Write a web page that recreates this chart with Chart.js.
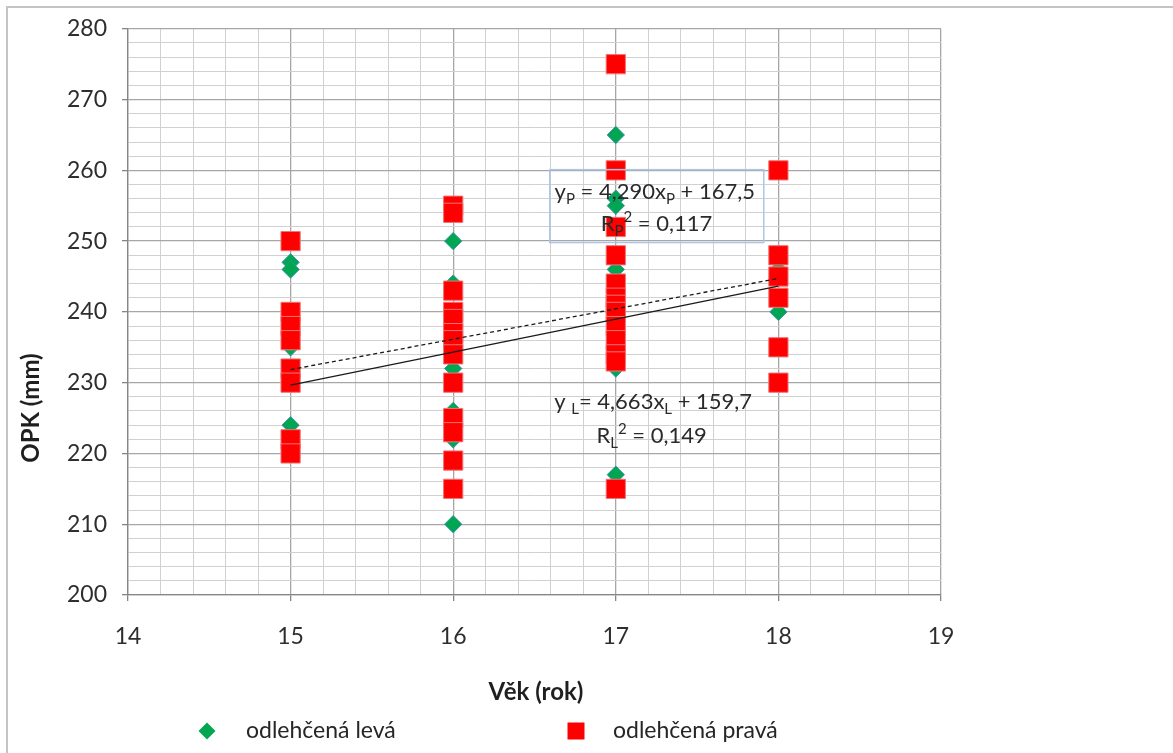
<!DOCTYPE html>
<html>
<head>
<meta charset="utf-8">
<script src="https://cdn.jsdelivr.net/npm/chart.js@4.4.1/dist/chart.umd.min.js"></script>
<style>
  html, body { margin: 0; padding: 0; background: #fff; }
  canvas { display: block; }
</style>
</head>
<body>
<canvas id="c" width="1173" height="753"></canvas>
<script>
// OPK (mm) by age, lighter-load group, left and right side
const levaVek = [15, 15, 15, 15, 16, 16, 16, 16, 16, 16, 17, 17, 17, 17, 17, 17, 18, 18];
const levaOPK = [247, 246, 235, 224, 250, 244, 232, 226, 222, 210, 265, 256, 255, 246, 232, 217, 246, 240];

const pravaVek = [15, 15, 15, 15, 15, 15, 15, 15,
                  16, 16, 16, 16, 16, 16, 16, 16, 16, 16, 16, 16, 16,
                  17, 17, 17, 17, 17, 17, 17, 17, 17, 17, 17, 17, 17,
                  18, 18, 18, 18, 18, 18];
const pravaOPK = [250, 240, 238, 236, 232, 230, 222, 220,
                  255, 254, 243, 240, 239, 237, 236, 234, 230, 225, 223, 219, 215,
                  275, 260, 252, 248, 244, 242, 241, 240, 238, 236, 234, 233, 215,
                  260, 248, 245, 242, 235, 230];

// linear trends: [slope, intercept], fitted over ages 15-18
const trendL = [4.663, 159.7];
const trendP = [4.290, 167.5];
const trendVek = [15, 18];

const seriesNames = ['odlehčená levá', 'odlehčená pravá'];
const axisTitles = { x: 'Věk (rok)', y: 'OPK (mm)' };
const xRange = [14, 19];
const yRange = [200, 280];

const FONT = 'Lato, "Open Sans", sans-serif';
const GREEN = '#00a651';
const RED = '#ff0000';

const toPoints = (xs, ys) => xs.map((x, i) => ({ x: x, y: ys[i] }));
const trendPoints = (c) => trendVek.map(x => ({ x: x, y: c[0] * x + c[1] }));

const isWhole = (v, step) => Math.abs(v / step - Math.round(v / step)) < 1e-6;

// equation labels: parts are [text, kind] with kind '', 'sub' or 'sup'
const labels = [
  { x: 17.24, y: 255.9, parts: [['y', ''], ['P', 'sub'], [' = 4,290x', ''], ['P', 'sub'], [' + 167,5', '']] },
  { x: 17.25, y: 251.5, parts: [['R', ''], ['P', 'sub'], ['2', 'sup'], [' = 0,117', '']] },
  { x: 17.23, y: 226.3, parts: [['y ', ''], ['L', 'sub'], ['= 4,663x', ''], ['L', 'sub'], [' + 159,7', '']] },
  { x: 17.22, y: 221.5, parts: [['R', ''], ['L', 'sub'], ['2', 'sup'], [' = 0,149', '']] }
];
const pBox = { x0: 16.594, x1: 17.91, y0: 260.1, y1: 249.8 };

function partFont(kind) {
  return kind === '' ? '22px ' + FONT : '15px ' + FONT;
}

function drawRich(ctx, parts, cx, baseline) {
  let total = 0;
  parts.forEach(p => { ctx.font = partFont(p[1]); total += ctx.measureText(p[0]).width; });
  let x = cx - total / 2;
  parts.forEach(p => {
    ctx.font = partFont(p[1]);
    const dy = p[1] === 'sub' ? 5 : (p[1] === 'sup' ? -9 : 0);
    ctx.fillText(p[0], x, baseline + dy);
    x += ctx.measureText(p[0]).width;
  });
}

const decorPlugin = {
  id: 'decor',
  afterDatasetsDraw(chart) {
    const ctx = chart.ctx;
    const xs = chart.scales.x, ys = chart.scales.y;
    ctx.save();
    // outline around the right-side equation
    ctx.strokeStyle = '#aec4e6';
    ctx.lineWidth = 1.5;
    const bx0 = xs.getPixelForValue(pBox.x0), bx1 = xs.getPixelForValue(pBox.x1);
    const by0 = ys.getPixelForValue(pBox.y0), by1 = ys.getPixelForValue(pBox.y1);
    ctx.strokeRect(bx0, by0, bx1 - bx0, by1 - by0);
    ctx.fillStyle = '#2a2a2a';
    ctx.textAlign = 'left';
    ctx.textBaseline = 'alphabetic';
    labels.forEach(l => drawRich(ctx, l.parts, xs.getPixelForValue(l.x), ys.getPixelForValue(l.y)));
    ctx.restore();
  },
  afterDraw(chart) {
    const ctx = chart.ctx;
    ctx.save();
    // chart frame (top and left edges)
    ctx.strokeStyle = '#c4c4c4';
    ctx.lineWidth = 2;
    ctx.beginPath();
    ctx.moveTo(7, 753);
    ctx.lineTo(7, 7);
    ctx.lineTo(1173, 7);
    ctx.stroke();

    // axis titles
    ctx.fillStyle = '#1f1f1f';
    ctx.font = 'bold 24px ' + FONT;
    ctx.textAlign = 'center';
    ctx.textBaseline = 'middle';
    ctx.fillText(axisTitles.x, 536, 692);
    ctx.save();
    ctx.translate(31, 408);
    ctx.rotate(-Math.PI / 2);
    ctx.fillText(axisTitles.y, 0, 0);
    ctx.restore();

    // legend
    const items = [
      { ds: 0, mx: 207, tx: 246 },
      { ds: 1, mx: 576, tx: 613 }
    ];
    items.forEach(it => {
      const d = chart.data.datasets[it.ds];
      ctx.fillStyle = d.backgroundColor;
      ctx.beginPath();
      if (d.pointStyle === 'rect') {
        ctx.rect(it.mx - 8.5, 731 - 8.5, 17, 17);
      } else {
        ctx.moveTo(it.mx - 8.5, 731); ctx.lineTo(it.mx, 731 - 8.5);
        ctx.lineTo(it.mx + 8.5, 731); ctx.lineTo(it.mx, 731 + 8.5);
        ctx.closePath();
      }
      ctx.fill();
      ctx.fillStyle = '#262626';
      ctx.font = '23px ' + FONT;
      ctx.textAlign = 'left';
      ctx.textBaseline = 'middle';
      ctx.fillText(seriesNames[it.ds], it.tx, 731);
    });
    ctx.restore();
  }
};

const chart = new Chart(document.getElementById('c'), {
  type: 'scatter',
  data: {
    datasets: [
      {
        label: seriesNames[0],
        data: toPoints(levaVek, levaOPK),
        pointStyle: 'rectRot',
        pointRadius: 8.7,
        backgroundColor: GREEN,
        borderColor: 'rgba(60,140,170,0.85)',
        borderWidth: 1,
        order: 3
      },
      {
        label: seriesNames[1],
        data: toPoints(pravaVek, pravaOPK),
        pointStyle: 'rect',
        pointRadius: 13.6,
        backgroundColor: RED,
        borderColor: '#f07575',
        borderWidth: 1,
        order: 2
      },
      {
        type: 'line',
        label: 'trend L',
        data: trendPoints(trendL),
        borderColor: '#1a1a1a',
        borderWidth: 1.3,
        pointRadius: 0,
        fill: false,
        order: 1
      },
      {
        type: 'line',
        label: 'trend P',
        data: trendPoints(trendP),
        borderColor: '#1a1a1a',
        borderWidth: 1.3,
        borderDash: [4, 3],
        pointRadius: 0,
        fill: false,
        order: 0
      }
    ]
  },
  options: {
    responsive: false,
    animation: false,
    events: [],
    layout: { padding: { top: 23, right: 232, left: 0, bottom: 0 } },
    plugins: {
      legend: { display: false },
      tooltip: { enabled: false },
      title: { display: false }
    },
    scales: {
      x: {
        type: 'linear',
        min: xRange[0],
        max: xRange[1],
        afterFit(s) { s.height = 158; },
        border: { display: true, color: '#868686', width: 1.3 },
        grid: {
          color: c => isWhole(c.tick.value, 1) ? '#a6a6a6' : '#d0d0d0',
          lineWidth: c => isWhole(c.tick.value, 1) ? 1.3 : 1,
          tickColor: c => isWhole(c.tick.value, 1) ? '#868686' : 'rgba(0,0,0,0)',
          tickLength: 6
        },
        ticks: {
          stepSize: 0.2,
          autoSkip: false,
          maxRotation: 0,
          padding: 22,
          color: '#2e2e2e',
          font: { family: FONT, size: 23 },
          callback: v => isWhole(v, 1) ? String(Math.round(v)) : ''
        }
      },
      y: {
        type: 'linear',
        min: yRange[0],
        max: yRange[1],
        afterFit(s) { s.width = 128; },
        border: { display: true, color: '#868686', width: 1.3 },
        grid: {
          color: c => isWhole(c.tick.value, 10) ? '#a6a6a6' : '#d0d0d0',
          lineWidth: c => isWhole(c.tick.value, 10) ? 1.3 : 1,
          tickColor: c => isWhole(c.tick.value, 10) ? '#868686' : 'rgba(0,0,0,0)',
          tickLength: 6
        },
        ticks: {
          stepSize: 2,
          autoSkip: false,
          padding: 15,
          color: '#2e2e2e',
          font: { family: FONT, size: 23 },
          callback: v => isWhole(v, 10) ? String(Math.round(v)) : ''
        }
      }
    }
  },
  plugins: [decorPlugin]
});
</script>
</body>
</html>
